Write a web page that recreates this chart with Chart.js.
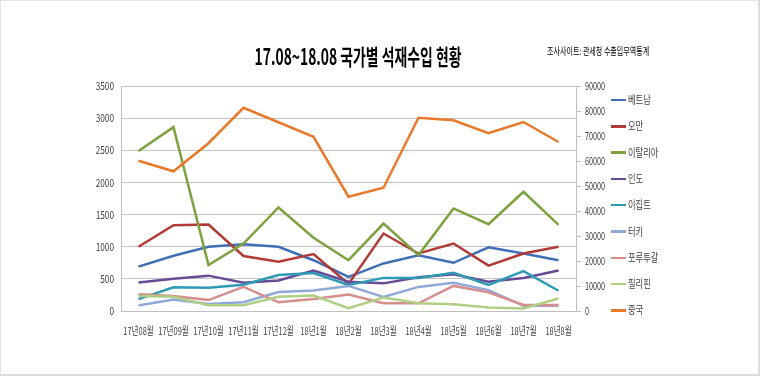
<!DOCTYPE html>
<html>
<head>
<meta charset="utf-8">
<script src="https://cdn.jsdelivr.net/npm/chart.js@4/dist/chart.umd.min.js"></script>
<style>
  html, body { margin: 0; padding: 0; background: #fff; }
  #wrap { position: relative; width: 760px; height: 376px; overflow: hidden; background: #fff; }
  #c { position: absolute; left: 0; top: 0; }
  #title { position: absolute; left: 358px; top: 55px; white-space: nowrap; line-height: 1;
    font-family: "Noto Sans CJK KR", sans-serif; font-weight: 700; font-size: 22px; color: #000;
    transform: translate(-50%, -50%) scaleX(0.63); }
  #source { position: absolute; left: 547px; top: 51px; white-space: nowrap; line-height: 1;
    font-family: "Noto Sans CJK KR", sans-serif; font-size: 10.5px; color: #000;
    transform-origin: 0 50%; transform: translateY(-50%) scaleX(0.67); }
  .lg { position: absolute; left: 611px; height: 0; }
  .lg .ln { position: absolute; left: 0; top: -1.25px; width: 15px; height: 2.5px; }
  .lg .tx { position: absolute; left: 16.5px; top: 0; white-space: nowrap; line-height: 1;
    font-family: "Noto Sans CJK KR", sans-serif; font-size: 11.5px; color: #404040;
    transform-origin: 0 50%; transform: translateY(-50%) scaleX(0.72); }
  #frame { position: absolute; left: 0; top: 0; width: 760px; height: 376px; box-sizing: border-box;
    border-top: 1px solid #e4e4e4; border-left: 1px solid #e4e4e4;
    border-right: 2px solid #dcdcdc; border-bottom: 2px solid #dcdcdc; pointer-events: none; }
</style>
</head>
<body>
<div id="wrap">
  <canvas id="c" width="760" height="376"></canvas>
  <div id="title">17.08~18.08 국가별 석재수입 현황</div>
  <div id="source">조사사이트: 관세청 수출입무역통계</div>
  <div id="legend"></div>
  <div id="frame"></div>
</div>
<script>
// ---- data ----
const months = ['17년08월','17년09월','17년10월','17년11월','17년12월','18년1월','18년2월','18년3월','18년4월','18년5월','18년6월','18년7월','18년8월'];
const seriesNames = ['베트남','오만','이탈리아','인도','이집트','터키','포루투갈','필리핀','중국'];
const vietnam     = [690, 860, 1000, 1040, 1000, 790, 530, 740, 865, 750, 990, 895, 790];
const oman        = [1000, 1335, 1345, 855, 765, 885, 420, 1205, 895, 1050, 705, 895, 1000];
const italy       = [2490, 2860, 715, 1050, 1610, 1140, 790, 1360, 870, 1595, 1350, 1855, 1340];
const india       = [445, 500, 550, 440, 475, 630, 455, 430, 525, 570, 455, 515, 630];
const egypt       = [185, 370, 360, 410, 560, 590, 405, 515, 515, 595, 405, 620, 315];
const turkey      = [85, 180, 110, 135, 295, 320, 390, 220, 375, 440, 325, 80, 80];
const portugal    = [260, 235, 170, 375, 135, 185, 255, 120, 120, 390, 290, 95, 95];
const philippines = [235, 220, 90, 90, 220, 240, 45, 210, 120, 105, 55, 40, 195];
const china       = [60100, 55900, 67100, 81300, 75500, 69700, 45700, 49300, 77300, 76300, 71100, 75600, 67600];
const leftTicks  = { min: 0, max: 3500, step: 500 };
const rightTicks = { min: 0, max: 90000, step: 10000 };

// ---- styles ----
const colors = ['#3F6FB4','#B23A36','#7BA23F','#684B94','#2E9BB6','#8EA9D8','#D88D8D','#AFCF85','#E8792A'];
const values = [vietnam, oman, italy, india, egypt, turkey, portugal, philippines, china];
const axisFor = ['y','y','y','y','y','y','y','y','y1'];

const datasets = values.map((v, i) => ({
  label: seriesNames[i],
  data: v,
  yAxisID: axisFor[i],
  borderColor: colors[i],
  backgroundColor: colors[i],
  borderWidth: 2.5,
  pointRadius: 0,
  pointHoverRadius: 0,
  tension: 0,
  fill: false,
  order: -i
}));

const compressedText = {
  id: 'compressedText',
  afterDraw(chart) {
    const ctx = chart.ctx;
    const sx = chart.scales.x, sl = chart.scales.y, sr = chart.scales.y1;
    const put = (t, px, py, align, scale, size) => {
      ctx.save();
      ctx.translate(px, py);
      ctx.scale(scale, 1);
      ctx.font = size + 'px "Noto Sans CJK KR"';
      ctx.fillStyle = '#404040';
      ctx.textAlign = align;
      ctx.textBaseline = 'middle';
      ctx.fillText(t, 0, 0);
      ctx.restore();
    };
    chart.data.labels.forEach((lab, i) => put(lab, sx.getPixelForTick(i), 331, 'center', 0.68, 11));
    sl.ticks.forEach(t => put(String(t.value), 114, sl.getPixelForValue(t.value), 'right', 0.75, 11));
    sr.ticks.forEach(t => put(String(t.value), 585, sr.getPixelForValue(t.value), 'left', 0.66, 11));
  }
};

new Chart(document.getElementById('c'), {
  type: 'line',
  data: { labels: months, datasets },
  options: {
    responsive: false,
    animation: false,
    events: [],
    layout: { padding: { left: 0, right: 0, top: 86, bottom: 0 } },
    plugins: { legend: { display: false }, title: { display: false }, tooltip: { enabled: false } },
    scales: {
      x: {
        type: 'category', offset: true,
        grid: { display: false, drawTicks: false },
        border: { display: true, color: '#bfbfbf', width: 1 },
        ticks: { color: 'rgba(0,0,0,0)', maxRotation: 0, minRotation: 0, autoSkip: false, font: { size: 11 } },
        afterFit(s) { s.height = 65; }
      },
      y: {
        position: 'left', min: leftTicks.min, max: leftTicks.max,
        ticks: { stepSize: leftTicks.step, color: 'rgba(0,0,0,0)', font: { size: 11 } },
        grid: { color: '#c4c4c4', lineWidth: 1, drawTicks: false },
        border: { display: true, color: '#bfbfbf', width: 1 },
        afterFit(s) { s.width = 121; }
      },
      y1: {
        position: 'right', min: rightTicks.min, max: rightTicks.max,
        ticks: { stepSize: rightTicks.step, color: 'rgba(0,0,0,0)', font: { size: 11 } },
        grid: { drawOnChartArea: false, drawTicks: true, tickLength: 5, color: '#bfbfbf' },
        border: { display: true, color: '#bfbfbf', width: 1 },
        afterFit(s) { s.width = 184; }
      }
    }
  },
  plugins: [compressedText]
});

// ---- legend (HTML, built from series names/colours) ----
const legend = document.getElementById('legend');
seriesNames.forEach((name, i) => {
  const item = document.createElement('div');
  item.className = 'lg';
  item.style.top = (100 + i * 26.3) + 'px';
  const ln = document.createElement('div');
  ln.className = 'ln';
  ln.style.background = colors[i];
  const tx = document.createElement('div');
  tx.className = 'tx';
  tx.textContent = name;
  item.appendChild(ln);
  item.appendChild(tx);
  legend.appendChild(item);
});
</script>
</body>
</html>
